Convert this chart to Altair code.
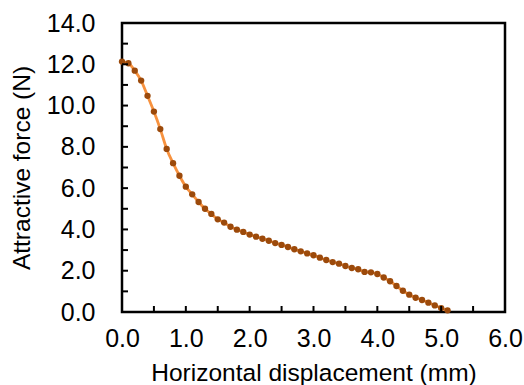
import altair as alt
import pandas as pd

displacement = [0.0, 0.1, 0.2, 0.3, 0.4, 0.5, 0.6, 0.7, 0.8, 0.9,
                1.0, 1.1, 1.2, 1.3, 1.4, 1.5, 1.6, 1.7, 1.8, 1.9,
                2.0, 2.1, 2.2, 2.3, 2.4, 2.5, 2.6, 2.7, 2.8, 2.9,
                3.0, 3.1, 3.2, 3.3, 3.4, 3.5, 3.6, 3.7, 3.8, 3.9,
                4.0, 4.1, 4.2, 4.3, 4.4, 4.5, 4.6, 4.7, 4.8, 4.9,
                5.0, 5.1]
force = [12.13, 12.05, 11.69, 11.21, 10.47, 9.71, 8.86, 7.90, 7.21, 6.60,
         6.07, 5.70, 5.33, 5.00, 4.75, 4.49, 4.33, 4.13, 3.99, 3.88,
         3.75, 3.65, 3.55, 3.45, 3.34, 3.25, 3.15, 3.04, 2.94, 2.84,
         2.75, 2.63, 2.52, 2.42, 2.34, 2.23, 2.13, 2.07, 1.94, 1.92,
         1.84, 1.67, 1.49, 1.26, 1.03, 0.84, 0.69, 0.58, 0.45, 0.32,
         0.19, 0.08]
x_ticks = [0.0, 0.5, 1.0, 1.5, 2.0, 2.5, 3.0, 3.5, 4.0, 4.5, 5.0, 5.5, 6.0]
y_ticks = [0, 1, 2, 3, 4, 5, 6, 7, 8, 9, 10, 11, 12, 13, 14]
x_labels = [0, 1, 2, 3, 4, 5, 6]
y_labels = [0, 2, 4, 6, 8, 10, 12, 14]

df = pd.DataFrame({"x": displacement, "y": force})
xt = pd.DataFrame({"x": x_ticks})
yt = pd.DataFrame({"y": y_ticks})

FONT = "Liberation Sans"
xscale = alt.Scale(domain=[0, 6], nice=False, zero=False)
yscale = alt.Scale(domain=[0, 14], nice=False, zero=False)

xaxis = alt.Axis(values=x_labels, format=".1f", title="Horizontal displacement (mm)",
                 grid=False, domain=False, ticks=False, labelPadding=14, labelFlush=False,
                 labelFontSize=25, titleFontSize=24.5, labelFont=FONT, titleFont=FONT,
                 labelColor="black", titleColor="black", titleFontWeight="normal",
                 titlePadding=10)
yaxis = alt.Axis(values=y_labels, format=".1f", title="Attractive force (N)",
                 grid=False, domain=False, ticks=False, labelPadding=27, labelFlush=False,
                 labelFontSize=25, titleFontSize=24.5, labelFont=FONT, titleFont=FONT,
                 labelColor="black", titleColor="black", titleFontWeight="normal",
                 titlePadding=12)

line = alt.Chart(df).mark_line(color="#F7923F", strokeWidth=2.8, interpolate="monotone").encode(
    x=alt.X("x:Q", scale=xscale, axis=xaxis),
    y=alt.Y("y:Q", scale=yscale, axis=yaxis),
)
pts = alt.Chart(df).mark_circle(color="#9C4A0B", opacity=1, size=40).encode(
    x=alt.X("x:Q", scale=xscale),
    y=alt.Y("y:Q", scale=yscale),
)
xtick = alt.Chart(xt).mark_rule(color="black", strokeWidth=2).encode(
    x=alt.X("x:Q", scale=xscale),
    y=alt.value(289), y2=alt.value(283),
)
ytick = alt.Chart(yt).mark_rule(color="black", strokeWidth=2).encode(
    y=alt.Y("y:Q", scale=yscale),
    x=alt.value(0), x2=alt.value(6),
)

chart = alt.layer(line, pts, xtick, ytick).properties(
    width=383, height=289,
    autosize=alt.AutoSizeParams(type="none"),
    padding={"left": 122, "top": 23, "right": 19, "bottom": 73},
    background="white",
).configure_view(stroke="black", strokeWidth=2.5)

chart.save("out.html", embed_options={"renderer": "svg", "actions": False})
